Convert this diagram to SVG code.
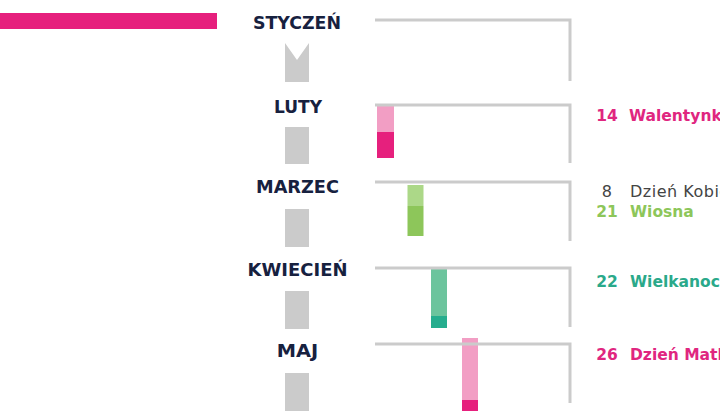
<svg xmlns="http://www.w3.org/2000/svg" width="720" height="420" viewBox="0 0 720 420">
<style>
.month{font-family:"DejaVu Sans","Liberation Sans",sans-serif;font-weight:bold;font-size:17px;fill:#17213f;text-anchor:middle}
.step{fill:#cbcbcb}
.conn{fill:none;stroke:#cbcbcb;stroke-width:3;stroke-linejoin:miter}
.num{font-family:"DejaVu Sans","Liberation Sans",sans-serif;font-size:15.5px;text-anchor:middle}
.lbl{font-family:"DejaVu Sans","Liberation Sans",sans-serif;font-size:15.5px}
.reg{font-size:16px;letter-spacing:0.5px}
.b{font-weight:bold}
.pink{fill:#e0267f}
.green{fill:#8dc65a}
.teal{fill:#2aa98a}
.gray{fill:#444444}
.pkL{fill:#f29ec4}.pkD{fill:#e6207d}
.grL{fill:#acd888}.grD{fill:#8dc65a}
.tlL{fill:#6cc49d}.tlD{fill:#26ad8e}
</style>
<rect x="0" y="13" width="217" height="16" fill="#e6207d"/>
<g id="bars">
<rect class="pkL" x="377" y="106" width="17" height="26"/><rect class="pkD" x="377" y="132" width="17" height="26"/>
<rect class="grL" x="407.5" y="185" width="16" height="21"/><rect class="grD" x="407.5" y="206" width="16" height="30"/>
<rect class="tlL" x="431" y="267" width="16" height="49"/><rect class="tlD" x="431" y="316" width="16" height="12"/>
<rect class="pkL" x="462" y="338" width="16" height="62"/><rect class="pkD" x="462" y="400" width="16" height="11"/>
</g>
<g id="connectors">
<path class="conn" d="M375,20 H570 V81"/>
<path class="conn" d="M375,105 H570 V163"/>
<path class="conn" d="M375,182 H570 V241"/>
<path class="conn" d="M375,268 H570 V327"/>
<path class="conn" d="M375,344 H570 V403"/>
</g>
<g id="styczen">
<text class="month" x="297" y="28.5" textLength="88" lengthAdjust="spacingAndGlyphs">STYCZEŃ</text>
<polygon class="step" points="285,43 297,60 309,43 309,82 285,82"/>
</g>
<g id="luty">
<text class="month" x="298" y="113" textLength="48" lengthAdjust="spacingAndGlyphs">LUTY</text>
<rect class="step" x="285" y="127" width="24" height="37"/>
<text class="num b pink" x="607" y="121">14</text>
<text class="lbl b pink" x="629" y="121">Walentynki</text>
</g>
<g id="marzec">
<text class="month" x="297.5" y="193" textLength="83" lengthAdjust="spacingAndGlyphs">MARZEC</text>
<rect class="step" x="285" y="209" width="24" height="38"/>
<text class="num gray reg" x="607" y="196.5">8</text>
<text class="lbl gray reg" x="630" y="196.5">Dzień Kobiet</text>
<text class="num b green" x="607" y="216.5">21</text>
<text class="lbl b green" x="630" y="216.5">Wiosna</text>
</g>
<g id="kwiecien">
<text class="month" x="297.5" y="276" textLength="100" lengthAdjust="spacingAndGlyphs">KWIECIEŃ</text>
<rect class="step" x="285" y="291" width="24" height="38"/>
<text class="num b teal" x="607" y="287">22</text>
<text class="lbl b teal" x="630" y="287">Wielkanoc</text>
</g>
<g id="maj">
<text class="month" x="297.5" y="357" textLength="41.5" lengthAdjust="spacingAndGlyphs">MAJ</text>
<rect class="step" x="285" y="373" width="24" height="38"/>
<text class="num b pink" x="607" y="360">26</text>
<text class="lbl b pink" x="630" y="360">Dzień Matki</text>
</g>
</svg>
